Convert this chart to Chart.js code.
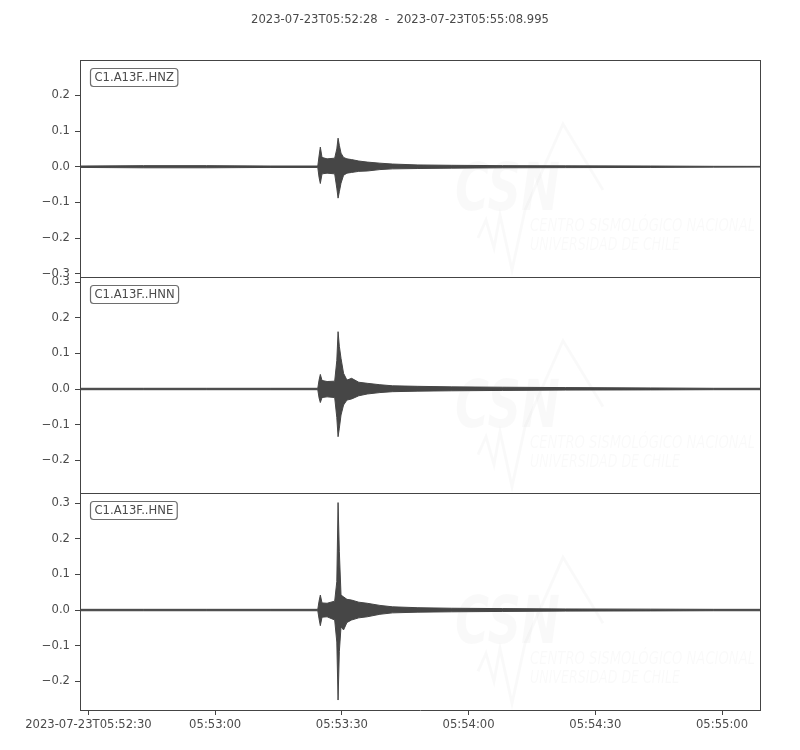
<!DOCTYPE html>
<html>
<head>
<meta charset="utf-8">
<title>C1.A13F</title>
<script src="https://cdn.jsdelivr.net/npm/chart.js@4.4.1/dist/chart.umd.min.js"></script>
<style>
  html, body { margin: 0; padding: 0; background: #fff; }
  #wrap { width: 800px; height: 750px; }
</style>
</head>
<body>
<div id="wrap"><canvas id="sismo" width="800" height="750"></canvas></div>
<script>
// segundos desde 2023-07-23T05:52:28 (envolvente)
const tiempos = [0, 15, 30, 45, 56.3, 56.6, 56.9, 57.3, 58.5, 60.3, 60.8, 61.1, 61.4, 61.8, 62.4, 63.2, 64.3, 66, 68, 71, 74, 80, 88, 100, 115, 135, 150, 161];

const hnzMax = [0.002, 0.003, 0.003, 0.002, 0.002, 0.030, 0.055, 0.026, 0.022, 0.024, 0.050, 0.080, 0.060, 0.038, 0.026, 0.022, 0.020, 0.016, 0.013, 0.010, 0.0075, 0.005, 0.004, 0.003, 0.0025, 0.002, 0.0012, 0.001];
const hnzMin = [-0.002, -0.003, -0.003, -0.002, -0.002, -0.030, -0.047, -0.020, -0.018, -0.020, -0.060, -0.088, -0.070, -0.046, -0.024, -0.018, -0.016, -0.013, -0.012, -0.008, -0.006, -0.005, -0.004, -0.003, -0.0025, -0.002, -0.0012, -0.001];

const hnnMax = [0.002, 0.002, 0.002, 0.002, 0.002, 0.025, 0.041, 0.024, 0.021, 0.022, 0.080, 0.161, 0.120, 0.086, 0.044, 0.025, 0.030, 0.019, 0.016, 0.012, 0.009, 0.0075, 0.006, 0.005, 0.004, 0.003, 0.002, 0.002];
const hnnMin = [-0.002, -0.002, -0.002, -0.002, -0.002, -0.025, -0.038, -0.024, -0.022, -0.024, -0.080, -0.134, -0.110, -0.073, -0.045, -0.031, -0.028, -0.019, -0.014, -0.010, -0.0075, -0.006, -0.005, -0.004, -0.003, -0.0025, -0.002, -0.002];

const hneMax = [0.002, 0.002, 0.002, 0.002, 0.002, 0.025, 0.042, 0.020, 0.019, 0.025, 0.080, 0.302, 0.164, 0.042, 0.037, 0.030, 0.028, 0.022, 0.019, 0.013, 0.009, 0.0065, 0.005, 0.004, 0.003, 0.0025, 0.002, 0.002];
const hneMin = [-0.002, -0.002, -0.002, -0.002, -0.002, -0.025, -0.044, -0.020, -0.019, -0.028, -0.090, -0.253, -0.117, -0.047, -0.056, -0.035, -0.028, -0.022, -0.019, -0.012, -0.008, -0.006, -0.005, -0.004, -0.003, -0.0025, -0.002, -0.002];

const canales = ['C1.A13F..HNZ', 'C1.A13F..HNN', 'C1.A13F..HNE'];
const rangoHNZ = [-0.308, 0.299];
const rangoHNN = [-0.293, 0.3155];
const rangoHNE = [-0.281, 0.328];

const tickSegundos = [2, 32, 62, 92, 122, 152];
const tickEtiquetas = ['2023-07-23T05:52:30', '05:53:00', '05:53:30', '05:54:00', '05:54:30', '05:55:00'];
const duracion = 160.995;
const titulo = '2023-07-23T05:52:28  -  2023-07-23T05:55:08.995';

const COLOR_TRAZA = '#464646';
const COLOR_EJE = '#444444';
const COLOR_TEXTO = '#4a4a4a';
const FUENTE = { family: '"DejaVu Sans", sans-serif', size: 11.6 };
const MARCA = 'rgba(0,0,0,0.022)';

function formatoY(v) {
    if (Math.abs(v) < 1e-9) return '0.0';
    return v.toFixed(1).replace('-', '\u2212');
}

function ejeY(rango) {
    return {
        type: 'linear',
        position: 'left',
        stack: 'trazas',
        stackWeight: 1,
        offset: false,
        min: rango[0],
        max: rango[1],
        afterFit: s => { s.width = 80; },
        ticks: {
            stepSize: 0.1,
            includeBounds: false,
            color: COLOR_TEXTO,
            font: FUENTE,
            padding: 5,
            callback: v => formatoY(v)
        },
        grid: { drawOnChartArea: false, tickLength: 5, color: COLOR_EJE },
        border: { display: true, color: COLOR_EJE, width: 1 }
    };
}

function serie(valores, eje, relleno) {
    return {
        data: tiempos.map((t, i) => ({ x: t, y: valores[i] })),
        yAxisID: eje,
        borderColor: COLOR_TRAZA,
        backgroundColor: COLOR_TRAZA,
        borderWidth: 1,
        pointRadius: 0,
        tension: 0,
        fill: relleno
    };
}

const trazas = [
    { eje: 'yZ', max: hnzMax, min: hnzMin },
    { eje: 'yN', max: hnnMax, min: hnnMin },
    { eje: 'yE', max: hneMax, min: hneMin }
];

const datasets = [];
trazas.forEach(tr => {
    datasets.push(serie(tr.max, tr.eje, false));
    datasets.push(serie(tr.min, tr.eje, '-1'));
});

// texto ajustado a un ancho dado (marca de agua)
function textoAncho(ctx, txt, x, y, ancho) {
    const w = ctx.measureText(txt).width;
    ctx.save();
    ctx.translate(x, y);
    ctx.scale(ancho / w, 1);
    ctx.fillText(txt, 0, 0);
    ctx.restore();
}

// marca de agua, marco, etiquetas y titulo
const decoracion = {
    id: 'decoracion',
    beforeDatasetsDraw(chart) {
        const ctx = chart.ctx;
        const area = chart.chartArea;
        ctx.save();
        ctx.beginPath();
        ctx.rect(area.left, area.top, area.right - area.left, area.bottom - area.top);
        ctx.clip();
        ['yZ', 'yN', 'yE'].forEach(id => {
            const top = chart.scales[id].top;
            ctx.fillStyle = MARCA;
            ctx.strokeStyle = MARCA;
            ctx.font = 'italic bold 66px "DejaVu Sans", sans-serif';
            textoAncho(ctx, 'CSN', 455, top + 150, 105);
            ctx.lineWidth = 3;
            ctx.beginPath();
            const pts = [[478, 178], [486, 160], [494, 188], [500, 155], [512, 210], [525, 150], [563, 64], [597, 120], [603, 130]];
            pts.forEach((p, i) => i ? ctx.lineTo(p[0], top + p[1]) : ctx.moveTo(p[0], top + p[1]));
            ctx.stroke();
            ctx.font = 'italic 17px "DejaVu Sans", sans-serif';
            textoAncho(ctx, 'CENTRO SISMOLÓGICO NACIONAL', 530, top + 171, 225);
            textoAncho(ctx, 'UNIVERSIDAD DE CHILE', 530, top + 190, 150);
        });
        ctx.restore();
    },
    afterDraw(chart) {
        const ctx = chart.ctx;
        const area = chart.chartArea;
        ctx.save();
        ctx.strokeStyle = COLOR_EJE;
        ctx.lineWidth = 1;
        ctx.beginPath();
        ctx.moveTo(area.left, Math.round(area.top) + 0.5);
        ctx.lineTo(area.right, Math.round(area.top) + 0.5);
        ctx.moveTo(Math.round(area.right) + 0.5, area.top);
        ctx.lineTo(Math.round(area.right) + 0.5, area.bottom);
        ['yZ', 'yN'].forEach(id => {
            const y = Math.round(chart.scales[id].bottom) + 0.5;
            ctx.moveTo(area.left, y);
            ctx.lineTo(area.right, y);
        });
        ctx.stroke();

        ctx.font = '11.6px "DejaVu Sans", sans-serif';
        ctx.textBaseline = 'middle';
        ['yZ', 'yN', 'yE'].forEach((id, i) => {
            const s = chart.scales[id];
            const w = ctx.measureText(canales[i]).width + 8;
            ctx.fillStyle = '#ffffff';
            ctx.strokeStyle = '#6e6e6e';
            ctx.lineWidth = 1.2;
            ctx.beginPath();
            ctx.roundRect(90.5, Math.round(s.top) + 8.5, w, 18, 3);
            ctx.fill();
            ctx.stroke();
            ctx.fillStyle = COLOR_TEXTO;
            ctx.textAlign = 'left';
            ctx.fillText(canales[i], 94.5, Math.round(s.top) + 18);
        });

        ctx.textAlign = 'center';
        ctx.fillStyle = COLOR_TEXTO;
        ctx.fillText(titulo, 400, 20);
        ctx.restore();
    }
};

new Chart(document.getElementById('sismo'), {
    type: 'line',
    data: { datasets },
    options: {
        responsive: false,
        animation: false,
        devicePixelRatio: 1,
        layout: { padding: { top: 60, right: 40, left: 0, bottom: 0 } },
        plugins: {
            legend: { display: false },
            tooltip: { enabled: false },
            title: { display: false }
        },
        scales: {
            x: {
                type: 'linear',
                min: 0,
                max: duracion,
                afterFit: s => { s.height = 40; },
                afterBuildTicks: s => { s.ticks = tickSegundos.map(v => ({ value: v })); },
                ticks: {
                    autoSkip: false,
                    maxRotation: 0,
                    color: COLOR_TEXTO,
                    font: FUENTE,
                    padding: 3,
                    callback: v => tickEtiquetas[tickSegundos.indexOf(v)]
                },
                grid: { drawOnChartArea: false, tickLength: 5, color: COLOR_EJE },
                border: { display: true, color: COLOR_EJE, width: 1 }
            },
            yE: ejeY(rangoHNE),
            yN: ejeY(rangoHNN),
            yZ: ejeY(rangoHNZ)
        }
    },
    plugins: [decoracion]
});
</script>
</body>
</html>
